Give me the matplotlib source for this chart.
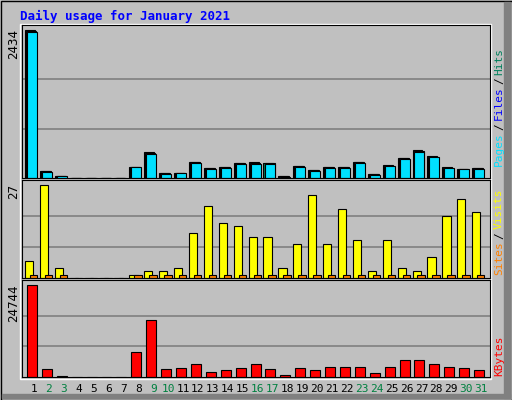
import matplotlib
matplotlib.use("Agg")
import matplotlib.pyplot as plt
from matplotlib.patches import Rectangle
import numpy as np

days = list(range(1, 32))
weekend = [2, 3, 9, 10, 16, 17, 23, 24, 30, 31]
hits = [2434, 115, 35, 0, 0, 0, 0, 180, 430, 80, 80, 265, 165, 180, 250, 265, 250, 35, 200, 130, 180, 180, 265, 65, 215, 330, 460, 360, 180, 150, 165]
files = [2415, 112, 32, 0, 0, 0, 0, 178, 415, 75, 75, 255, 160, 175, 240, 250, 240, 32, 190, 125, 175, 175, 255, 60, 205, 320, 440, 350, 172, 148, 160]
pages = [2400, 100, 30, 0, 0, 0, 0, 178, 395, 65, 75, 245, 150, 165, 230, 230, 230, 20, 180, 115, 165, 165, 245, 50, 195, 310, 420, 340, 165, 140, 150]
visits = [5, 27, 3, 0, 0, 0, 0, 1, 2, 2, 3, 13, 21, 16, 15, 12, 12, 3, 10, 24, 10, 20, 11, 2, 11, 3, 2, 6, 18, 23, 19]
sites = [1, 1, 1, 0, 0, 0, 0, 1, 1, 1, 1, 1, 1, 1, 1, 1, 1, 1, 1, 1, 1, 1, 1, 1, 1, 1, 1, 1, 1, 1, 1]
kbytes = [24744, 2200, 270, 0, 0, 0, 0, 6800, 15200, 2200, 2400, 3500, 1400, 1900, 2400, 3500, 2200, 540, 2400, 1900, 2700, 2700, 2700, 1100, 2700, 4600, 4600, 3500, 2700, 2400, 1900]

W, H = 512, 400
fig = plt.figure(figsize=(W/100, H/100), dpi=100, facecolor="#C0C0C0")
mono = "DejaVu Sans Mono"
bg = fig.add_axes([0, 0, 1, 1]); bg.set_xlim(0, W); bg.set_ylim(H, 0); bg.axis("off")
bg.add_patch(Rectangle((0.5, 0.5), W-1, H-1, fill=False, ec="black", lw=1))
bg.add_patch(Rectangle((504, 2), 6, 396, color="#808080"))
bg.add_patch(Rectangle((2, 394), 508, 4, color="#808080"))
bg.add_patch(Rectangle((19.5, 23.5), 471, 355, fill=False, ec="white", lw=1))
bg.text(20, 16, "Daily usage for January 2021", color="#0000FF", fontsize=9, fontweight="bold", family=mono, va="center")

def pax(y0, y1):
    ax = fig.add_axes([22/W, 1 - y1/H, (490-22)/W, (y1-y0)/H])
    ax.set_facecolor("#C0C0C0")
    ax.set_xlim(0.195, 31.6)
    ax.set_xticks([]); ax.set_yticks([])
    for s in ax.spines.values():
        s.set_color("black")
    return ax

days_a = np.array(days)
w = 0.67
ax1 = pax(25, 178)
m1 = hits[0]
ax1.set_ylim(0, m1 / 0.97)
for f in (1/3, 2/3):
    ax1.axhline(m1 * f, color="#808080", lw=1.2, zorder=0)
ax1.bar(days_a - 0.6, hits, width=w, align="edge", color="#00805C", ec="black", lw=0.8)
ax1.bar(days_a - 0.53, files, width=w, align="edge", color="#0000FF", ec="black", lw=0.8)
ax1.bar(days_a - 0.47, pages, width=w, align="edge", color="#00E0FF", ec="black", lw=0.8)

ax2 = pax(180, 278)
m2 = max(visits)
ax2.set_ylim(0, m2 / 0.95)
for f in (1/3, 2/3):
    ax2.axhline(m2 * f, color="#808080", lw=1.2, zorder=0)
ax2.bar(days_a - 0.6, visits, width=0.55, align="edge", color="#FFFF00", ec="black", lw=0.8)
ax2.bar(days_a - 0.27, sites, width=0.5, align="edge", color="#FF8000", ec="black", lw=0.8)

ax3 = pax(280, 377)
m3 = max(kbytes)
ax3.set_ylim(0, m3 / 0.95)
for f in (1/3, 2/3):
    ax3.axhline(m3 * f, color="#808080", lw=1.2, zorder=0)
ax3.bar(days_a - 0.47, kbytes, width=w, align="edge", color="#FF0000", ec="black", lw=0.8)

for y, t in [(29, str(max(hits))), (184, str(max(visits))), (284, str(max(kbytes)))]:
    bg.text(14, y, t, rotation=90, fontsize=9, family=mono, ha="center", va="top")

for d in days:
    x = 34 + (d - 1) * 14.9
    bg.text(x, 389, str(d), fontsize=8, family=mono, ha="center", va="center",
            color="#008040" if d in weekend else "black")

adv = 6.6
def vlegend(ybottom, parts):
    y = ybottom
    for i, (t, c) in enumerate(parts):
        if i > 0:
            y -= 3
            bg.text(499, y, "/", rotation=90, fontsize=8, family=mono, color="black", ha="center", va="bottom")
            y -= adv + 3
        bg.text(499, y, t, rotation=90, fontsize=8, family=mono, color=c, ha="center", va="bottom")
        y -= adv * len(t)
vlegend(166, [("Pages", "#00E0FF"), ("Files", "#0000FF"), ("Hits", "#00805C")])
vlegend(275, [("Sites", "#FF8000"), ("Visits", "#FFFF00")])
vlegend(376, [("KBytes", "#FF0000")])

fig.savefig("out.png", dpi=100, facecolor=fig.get_facecolor())
